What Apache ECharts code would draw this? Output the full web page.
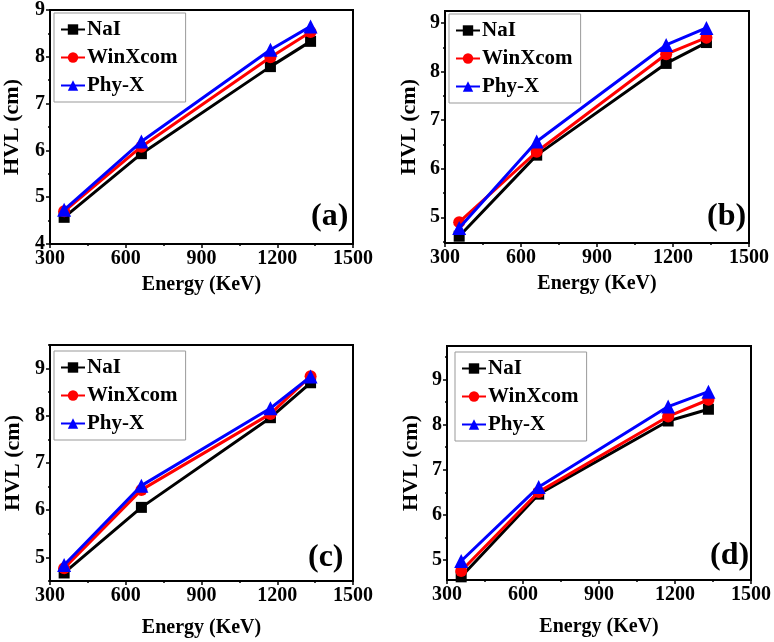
<!DOCTYPE html>
<html><head><meta charset="utf-8">
<script src="https://cdn.jsdelivr.net/npm/echarts@6/dist/echarts.min.js"></script>
<style>html,body{margin:0;padding:0;background:#fff}#c{width:774px;height:642px}</style>
</head><body><div id="c"></div>
<script>
const energy = [356, 662, 1173, 1332];
const seriesNames = ['NaI', 'WinXcom', 'Phy-X'];
const xTicks = [300, 600, 900, 1200, 1500];
const yTicks = [4, 5, 6, 7, 8, 9];
const panelLabels = ['(a)', '(b)', '(c)', '(d)'];

const a_NaI = [4.57, 5.93, 7.79, 8.33];
const a_WinXcom = [4.70, 6.08, 7.99, 8.53];
const a_PhyX = [4.73, 6.19, 8.15, 8.65];

const b_NaI = [4.61, 6.28, 8.17, 8.60];
const b_WinXcom = [4.90, 6.35, 8.36, 8.70];
const b_PhyX = [4.78, 6.56, 8.55, 8.90];

const c_NaI = [4.67, 6.06, 7.96, 8.70];
const c_WinXcom = [4.77, 6.43, 8.04, 8.84];
const c_PhyX = [4.84, 6.52, 8.16, 8.83];

const d_NaI = [4.63, 6.46, 8.08, 8.34];
const d_WinXcom = [4.76, 6.51, 8.18, 8.55];
const d_PhyX = [4.98, 6.62, 8.40, 8.73];

const panelData = [
  [a_NaI, a_WinXcom, a_PhyX],
  [b_NaI, b_WinXcom, b_PhyX],
  [c_NaI, c_WinXcom, c_PhyX],
  [d_NaI, d_WinXcom, d_PhyX]
];
const yRanges = [[4, 9], [4.47, 9.25], [4.5, 9.5], [4.56, 9.74]];

// layout
const grids = [
  {left: 50, top: 10, width: 303, height: 234},
  {left: 445, top: 11, width: 304, height: 232},
  {left: 50, top: 345, width: 303, height: 236},
  {left: 447, top: 346, width: 304, height: 234}
];
const legendPos = [[54, 13], [449, 14], [54, 351], [455, 352]];
const labelPos = [[330, 219], [726, 219], [327, 560], [729, 558]];
const yNameGap = [27, 25, 26, 25];
const xNameGap = [31, 31, 37, 37];

const colors = ['#000000', '#ff0000', '#0000ff'];
const symbols = ['rect', 'circle', 'triangle'];
const symSizes = [11, 12, 14];
const FONT = '"Liberation Serif", "Times New Roman", serif';

const option = {
  animation: false,
  backgroundColor: '#fff',
  grid: [], xAxis: [], yAxis: [], series: [], legend: [], graphic: []
};

grids.forEach((g, i) => {
  option.grid.push(Object.assign({show: true, borderColor: '#000', borderWidth: 2, backgroundColor: 'transparent'}, g));
  option.xAxis.push({
    type: 'value', gridIndex: i, min: 300, max: 1500, interval: 300,
    name: 'Energy (KeV)', nameLocation: 'middle', nameGap: xNameGap[i],
    nameTextStyle: {fontFamily: FONT, fontWeight: 'bold', fontSize: 20, color: '#000'},
    axisLine: {lineStyle: {color: '#000', width: 2}},
    axisTick: {show: true, inside: false, length: 4, lineStyle: {width: 1.5, color: '#000'}},
    minorTick: {show: true, splitNumber: 2, length: 2, lineStyle: {color: '#000', width: 1.5}},
    splitLine: {show: false},
    axisLabel: {fontFamily: FONT, fontWeight: 'bold', fontSize: 20, color: '#000', margin: 5,
      customValues: xTicks, formatter: v => String(v)}
  });
  const [ymin, ymax] = yRanges[i];
  const major = yTicks.filter(v => v >= ymin - 1e-9 && v <= ymax + 1e-9);
  const minor = yTicks.map(v => v + 0.5).concat([3.5]).filter(v => v >= ymin && v <= ymax);
  option.yAxis.push({
    type: 'value', gridIndex: i, min: ymin, max: ymax,
    name: 'HVL (cm)', nameLocation: 'middle', nameGap: yNameGap[i], nameRotate: 90,
    nameTextStyle: {fontFamily: FONT, fontWeight: 'bold', fontSize: 22, color: '#000'},
    axisLine: {show: true, lineStyle: {color: '#000', width: 2}},
    axisTick: {show: true, length: 4, lineStyle: {width: 1.5, color: '#000'}, customValues: major},
    splitLine: {show: false},
    axisLabel: {fontFamily: FONT, fontWeight: 'bold', fontSize: 20, color: '#000', margin: 5,
      customValues: major, formatter: v => String(v)}
  });
  // minor tick axis
  option.yAxis.push({
    type: 'value', gridIndex: i, min: ymin, max: ymax, position: 'left',
    axisLine: {show: false},
    axisTick: {show: true, length: 2, lineStyle: {width: 1.5, color: '#000'}, customValues: minor},
    axisLabel: {show: false, customValues: minor},
    splitLine: {show: false}
  });
  panelData[i].forEach((vals, k) => {
    option.series.push({
      type: 'line', name: seriesNames[k], xAxisIndex: i, yAxisIndex: i * 2,
      data: energy.map((e, j) => [e, vals[j]]),
      symbol: symbols[k], symbolSize: symSizes[k],
      lineStyle: {color: colors[k], width: 3},
      itemStyle: {color: colors[k]},
      z: 2 + k
    });
  });
  option.legend.push({
    data: seriesNames, orient: 'vertical', left: legendPos[i][0], top: legendPos[i][1],
    padding: [6, 8, 6, 6], itemGap: 7, itemWidth: 24, itemHeight: 13,
    borderColor: '#999', borderWidth: 1, backgroundColor: '#fff',
    textStyle: {fontFamily: FONT, fontWeight: 'bold', fontSize: 21, color: '#000', padding: [0, 0, 0, -3]},
    selectedMode: false
  });
  option.graphic.push({
    type: 'text', left: labelPos[i][0] - 19, top: labelPos[i][1] - 18,
    style: {text: panelLabels[i], font: 'bold 32px ' + FONT, fill: '#000'}
  });
});

const chart = echarts.init(document.getElementById('c'), null, {renderer: 'canvas'});
chart.setOption(option);
</script></body></html>
